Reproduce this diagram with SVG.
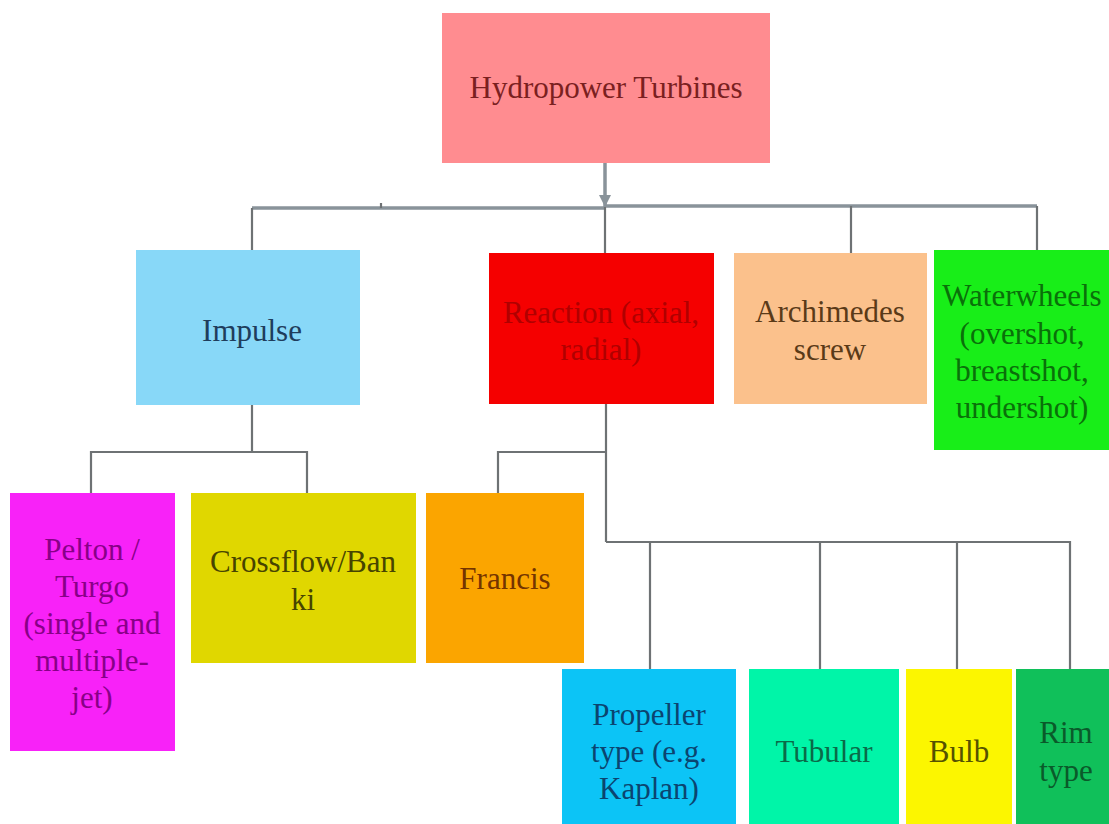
<svg xmlns="http://www.w3.org/2000/svg" width="1109" height="824" viewBox="0 0 1109 824">
<defs>
<style>
text{font-family:"Liberation Serif","Times New Roman",serif;font-size:31px;text-anchor:middle}
.bus{stroke:#89939a;stroke-width:3.5;fill:none}
.ln{stroke:#6e7274;stroke-width:2.2;fill:none}
</style>
<marker id="arr" markerWidth="12" markerHeight="12" refX="12" refY="6" orient="auto" markerUnits="userSpaceOnUse" viewBox="0 0 12 12">
<path d="M0,0 L12,6 L0,12 Z" fill="#89939a"/>
</marker>
</defs>
<rect width="1109" height="824" fill="#ffffff"/>
<g id="connectors">
<path class="bus" d="M605,163 V207" marker-end="url(#arr)"/>
<path class="bus" d="M252,208 H605 M605,206 H1037"/>
<path class="ln" d="M381,203 V208"/>
<path class="ln" d="M252,208 V250 M605,207 V253 M851,206 V253 M1037,206 V250"/>
<path class="ln" d="M252,405 V452 M91,493 V452 H307 V493"/>
<path class="ln" d="M606,404 V542 M606,452 H498 V493"/>
<path class="ln" d="M606,542 H1070 V669 M650,542 V669 M820,542 V669 M957,542 V669"/>
</g>
<g id="n-hydropower">
<rect x="442" y="13" width="328" height="150" fill="#ff8c90"/>
<text x="606" y="98" fill="#7a2020">Hydropower Turbines</text>
</g>
<g id="n-impulse">
<rect x="136" y="250" width="224" height="155" fill="#88d8f8"/>
<text x="252" y="341" fill="#1f3d5c">Impulse</text>
</g>
<g id="n-reaction">
<rect x="489" y="253" width="225" height="151" fill="#f50000"/>
<text x="601" y="323" fill="#b00000">Reaction (axial,</text>
<text x="601" y="360" fill="#b00000">radial)</text>
</g>
<g id="n-archimedes">
<rect x="734" y="253" width="193" height="151" fill="#fbc18c"/>
<text x="830" y="322" fill="#5a3a18">Archimedes</text>
<text x="830" y="360" fill="#5a3a18">screw</text>
</g>
<g id="n-waterwheels">
<rect x="934" y="250" width="175" height="200" fill="#18ee18"/>
<text x="1022" y="306" fill="#0a700a">Waterwheels</text>
<text x="1022" y="344" fill="#0a700a">(overshot,</text>
<text x="1022" y="381" fill="#0a700a">breastshot,</text>
<text x="1022" y="418" fill="#0a700a">undershot)</text>
</g>
<g id="n-pelton">
<rect x="10" y="493" width="165" height="258" fill="#f822f8"/>
<text x="92" y="560" fill="#880088">Pelton /</text>
<text x="92" y="597" fill="#880088">Turgo</text>
<text x="92" y="634" fill="#880088">(single and</text>
<text x="92" y="671" fill="#880088">multiple-</text>
<text x="92" y="708" fill="#880088">jet)</text>
</g>
<g id="n-crossflow">
<rect x="191" y="493" width="225" height="170" fill="#e0d700"/>
<text x="303" y="572" fill="#474400">Crossflow/Ban</text>
<text x="303" y="610" fill="#474400">ki</text>
</g>
<g id="n-francis">
<rect x="426" y="493" width="158" height="170" fill="#fba500"/>
<text x="505" y="589" fill="#743400">Francis</text>
</g>
<g id="n-propeller">
<rect x="562" y="669" width="174" height="155" fill="#0cc4f6"/>
<text x="649" y="725" fill="#0b4470">Propeller</text>
<text x="649" y="762" fill="#0b4470">type (e.g.</text>
<text x="649" y="799" fill="#0b4470">Kaplan)</text>
</g>
<g id="n-tubular">
<rect x="749" y="669" width="150" height="155" fill="#00f5a8"/>
<text x="824" y="762" fill="#0a6a48">Tubular</text>
</g>
<g id="n-bulb">
<rect x="906" y="669" width="106" height="155" fill="#fcf600"/>
<text x="959" y="762" fill="#555200">Bulb</text>
</g>
<g id="n-rim">
<rect x="1016" y="669" width="93" height="155" fill="#10c05a"/>
<text x="1066" y="743" fill="#0a5a2a">Rim</text>
<text x="1066" y="781" fill="#0a5a2a">type</text>
</g>
</svg>
